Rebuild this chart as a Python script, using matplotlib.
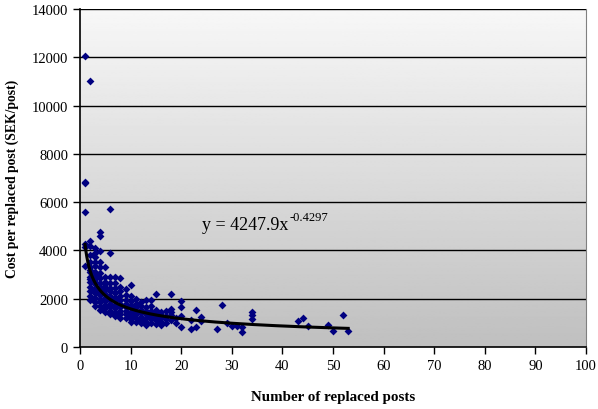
import numpy as np
import matplotlib.pyplot as plt
from matplotlib.ticker import MultipleLocator

# cost per replaced post vs number of replaced posts
posts_by_n = {
    1: [12050, 6850, 6800, 5590, 4270, 3370, 4150],
    2: [11000, 4410, 4200, 3790, 3510, 3300, 3100, 2900, 2700, 2500, 2300, 2100, 1950, 3200, 2800],
    3: [4090, 3900, 3720, 3510, 3350, 3100, 2950, 2800, 2600, 2400, 2250, 2050, 1850, 1700, 2700, 3000],
    4: [4750, 4590, 3990, 3510, 3300, 3050, 2850, 2650, 2450, 2300, 2150, 2000, 1850, 1700, 1550, 2500],
    5: [3300, 2900, 2700, 2500, 2350, 2200, 2050, 1900, 1750, 1600, 1450, 2600],
    6: [5720, 3900, 2900, 2650, 2450, 2300, 2100, 1950, 1800, 1650, 1500, 1350],
    7: [2900, 2650, 2450, 2250, 2050, 1900, 1750, 1600, 1450, 1300],
    8: [2850, 2500, 2300, 2100, 1950, 1800, 1650, 1500, 1350, 1200],
    9: [2400, 2150, 1950, 1800, 1650, 1500, 1350, 1200],
    10: [2570, 2100, 1900, 1750, 1600, 1450, 1300, 1150, 1050],
    11: [2000, 1800, 1650, 1500, 1350, 1200, 1050],
    12: [1870, 1700, 1550, 1400, 1250, 1100, 1000],
    13: [1950, 1650, 1500, 1350, 1200, 1050, 900],
    14: [1940, 1700, 1500, 1300, 1150, 1000],
    15: [2190, 1550, 1400, 1250, 1100, 950],
    16: [1310, 1450, 1200, 1050, 900],
    17: [1500, 1300, 1150, 1000],
    18: [2190, 1590, 1310, 1450, 1100],
    19: [1200, 1000],
    20: [1890, 1640, 1290, 830],
    22: [1100, 750],
    23: [1550, 830],
    24: [1245, 1060],
    27: [750],
    28: [1730],
    29: [1000],
    30: [850],
    31: [890],
    32: [820, 640],
    34: [1450, 1310, 1170],
    43: [1060],
    44: [1200],
    45: [850],
    49: [920],
    50: [670],
    52: [1310],
    53: [670],
}

# power trendline from the chart label
coef_a = 4247.9
coef_b = -0.4297
trend_range = [1, 53]

posts = []
cost = []
for n, vals in posts_by_n.items():
    for v in vals:
        posts.append(n)
        cost.append(v)

plt.rcParams['font.family'] = ['Liberation Serif', 'DejaVu Serif']

fig = plt.figure(figsize=(5.98, 4.10), dpi=100)
ax = fig.add_axes([80/598, 62/410, 506/598, 338/410])

# grey gradient background like excel
grad = np.linspace(0.75, 0.97, 256).reshape(-1, 1)
ax.imshow(grad, cmap='gray', vmin=0, vmax=1, origin='lower', aspect='auto',
          extent=[0, 1, 0, 1], transform=ax.transAxes, zorder=0)

for g in range(2000, 14001, 2000):
    ax.axhline(g, color='black', linewidth=1, zorder=1)

ax.scatter(posts, cost, marker='D', s=16, color='#000080', zorder=3, linewidths=0)

xt = np.linspace(trend_range[0], trend_range[1], 300)
ax.plot(xt, coef_a * xt ** coef_b, color='black', linewidth=2.2, zorder=4)

eq = ax.text(24.2, 4900, 'y = 4247.9x', fontsize=13)
ax.annotate('-0.4297', xy=(1, 0.55), xycoords=eq, xytext=(0.5, 0),
            textcoords='offset points', va='bottom', ha='left', fontsize=9)

ax.set_xlim(0, 100)
ax.set_ylim(0, 14000)
ax.xaxis.set_major_locator(MultipleLocator(10))
ax.yaxis.set_major_locator(MultipleLocator(2000))
ax.tick_params(direction='out', length=5, labelsize=10.5, width=1)
ax.spines['top'].set_visible(False)
ax.spines['right'].set_color('#808080')
ax.spines['left'].set_linewidth(1.2)
ax.spines['bottom'].set_linewidth(1.2)

ax.set_xlabel('Number of replaced posts', fontweight='bold', fontsize=10.8, labelpad=13)
ax.set_ylabel('Cost per replaced post (SEK/post)', fontweight='bold', fontsize=9.8, labelpad=9)

fig.savefig('out.png', dpi=100)
